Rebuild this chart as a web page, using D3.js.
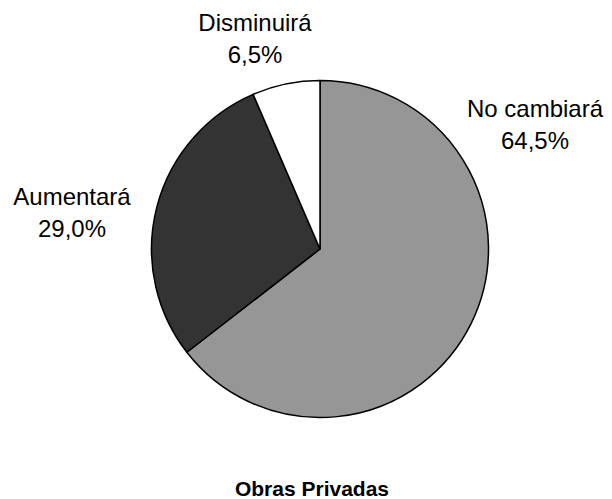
<!DOCTYPE html>
<html>
<head>
<meta charset="utf-8">
<script src="https://cdn.jsdelivr.net/npm/d3@7"></script>
<style>
  html, body { margin: 0; padding: 0; background: #fff; }
  svg { display: block; }
  text { font-family: "Liberation Sans", Arial, sans-serif; fill: #000; }
</style>
</head>
<body>
<svg id="chart" width="612" height="499"></svg>
<script>
const categories = ["No cambiará", "Aumentará", "Disminuirá"];
const values = [64.5, 29.0, 6.5];
const valueLabels = ["64,5%", "29,0%", "6,5%"];
const colors = ["#969696", "#333333", "#ffffff"];
const title = "Obras Privadas";

// label layout (centre x and first baseline of each label block)
const labelPos = [
  { x: 535, y: 117 },
  { x: 72, y: 205 },
  { x: 255, y: 31 }
];

const svg = d3.select("#chart");
const cx = 320, cy = 249, r = 168.5;

const pie = d3.pie().sort(null).value(d => d)(values);
const arc = d3.arc().innerRadius(0).outerRadius(r);

const g = svg.append("g").attr("transform", `translate(${cx},${cy})`);
g.selectAll("path")
  .data(pie)
  .join("path")
  .attr("d", arc)
  .attr("fill", (d, i) => colors[i])
  .attr("stroke", "#000")
  .attr("stroke-width", 1.5)
  .attr("stroke-linejoin", "round");

const labels = svg.selectAll("g.lbl")
  .data(pie)
  .join("g")
  .attr("class", "lbl");

labels.append("text")
  .attr("x", (d, i) => labelPos[i].x)
  .attr("y", (d, i) => labelPos[i].y)
  .attr("text-anchor", "middle")
  .attr("font-size", 24)
  .text((d, i) => categories[i]);

labels.append("text")
  .attr("x", (d, i) => labelPos[i].x)
  .attr("y", (d, i) => labelPos[i].y + 32)
  .attr("text-anchor", "middle")
  .attr("font-size", 24)
  .text((d, i) => valueLabels[i]);

svg.append("text")
  .attr("x", 312)
  .attr("y", 496)
  .attr("text-anchor", "middle")
  .attr("font-size", 21)
  .attr("font-weight", "bold")
  .attr("fill", "#111")
  .text(title);
</script>
</body>
</html>
